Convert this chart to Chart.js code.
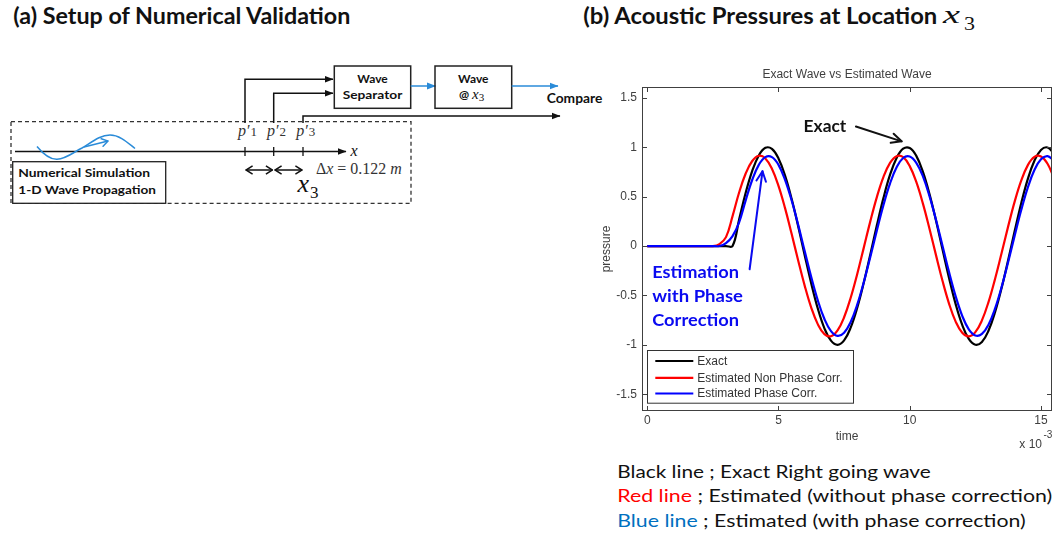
<!DOCTYPE html>
<html><head><meta charset="utf-8">
<script src="https://cdn.jsdelivr.net/npm/chart.js@4.4.1/dist/chart.umd.min.js"></script>
<style>
html,body{margin:0;padding:0;background:#fff;}
body{width:1057px;height:538px;position:relative;overflow:hidden;}
#dia{position:absolute;left:0;top:0;}
#wrap{position:absolute;left:580px;top:0;width:477px;height:538px;}
.cal{font-family:Lato,"Open Sans",sans-serif;}
.ser{font-family:"Liberation Serif","DejaVu Serif",serif;}
</style></head><body>
<svg id="dia" width="1057" height="538" xmlns="http://www.w3.org/2000/svg">
<defs>
<marker id="mk" markerUnits="userSpaceOnUse" markerWidth="9" markerHeight="8" viewBox="0 0 9 8" refX="8.5" refY="4" orient="auto"><path d="M0,0.5 L9,4 L0,7.5 z" fill="#111"/></marker>
<marker id="mkb" markerUnits="userSpaceOnUse" markerWidth="9" markerHeight="8" viewBox="0 0 9 8" refX="8.5" refY="4" orient="auto"><path d="M0,0.5 L9,4 L0,7.5 z" fill="#2a8bd8"/></marker>
<marker id="mko" markerUnits="userSpaceOnUse" markerWidth="8" markerHeight="10" viewBox="0 0 8 10" refX="7.3" refY="5" orient="auto-start-reverse"><path d="M0.7,0.8 L7.3,5 L0.7,9.2" fill="none" stroke="#111" stroke-width="1.5"/></marker>
<marker id="mkob" markerUnits="userSpaceOnUse" markerWidth="8" markerHeight="10" viewBox="0 0 8 10" refX="7.3" refY="5" orient="auto"><path d="M0.7,0.8 L7.3,5 L0.7,9.2" fill="none" stroke="#2a8bd8" stroke-width="1.4"/></marker>
</defs>
<!-- titles -->
<text class="cal" x="13.3" y="24" font-weight="700" font-size="23" fill="#111" textLength="337" lengthAdjust="spacingAndGlyphs">(a) Setup of Numerical Validation</text>
<text class="cal" x="583.3" y="23.5" font-weight="700" font-size="23" fill="#111" textLength="354" lengthAdjust="spacingAndGlyphs">(b) Acoustic Pressures at Location</text>
<text class="ser" x="943" y="23.3" font-style="italic" font-size="25" fill="#111" textLength="17" lengthAdjust="spacingAndGlyphs">x</text>
<text class="ser" x="964" y="29.5" font-size="18" fill="#111" textLength="11" lengthAdjust="spacingAndGlyphs">3</text>

<!-- dashed domain box -->
<rect x="11" y="121.7" width="400" height="81.6" fill="none" stroke="#333" stroke-width="1.3" stroke-dasharray="4,3"/>
<!-- numerical simulation box -->
<rect x="12.7" y="161.7" width="153" height="41.6" fill="#fff" stroke="#222" stroke-width="1.3"/>
<text class="cal" x="18.3" y="177.3" font-weight="700" font-size="11.5" fill="#111" textLength="131.7" lengthAdjust="spacingAndGlyphs">Numerical Simulation</text>
<text class="cal" x="18.3" y="194" font-weight="700" font-size="11.5" fill="#111" textLength="137.7" lengthAdjust="spacingAndGlyphs">1-D Wave Propagation</text>
<!-- axis -->
<line x1="15" y1="151.5" x2="346" y2="151.5" stroke="#111" stroke-width="1.5" marker-end="url(#mk)"/>
<text class="ser" x="350.5" y="155.5" font-style="italic" font-size="16" fill="#111">x</text>
<line x1="245" y1="147" x2="245" y2="156" stroke="#111" stroke-width="1.3"/>
<line x1="273.7" y1="147" x2="273.7" y2="156" stroke="#111" stroke-width="1.3"/>
<line x1="303" y1="147" x2="303" y2="156" stroke="#111" stroke-width="1.3"/>
<!-- blue wave -->
<path d="M37,146.5 C44,155 50,159.5 57,159.3 C66,159 74,152 82,148 C92,142 100,135 110,135 C120,135 128,143 135,148.5" fill="none" stroke="#2a8bd8" stroke-width="1.5"/>
<line x1="84" y1="147" x2="108" y2="141" stroke="#2a8bd8" stroke-width="1.5" marker-end="url(#mkob)"/>
<!-- probe labels -->
<text class="ser" x="238" y="136" font-style="italic" font-size="16" fill="#333">p′<tspan font-style="normal" font-size="13" dx="1">1</tspan></text>
<text class="ser" x="267" y="136" font-style="italic" font-size="16" fill="#333">p′<tspan font-style="normal" font-size="13" dx="1">2</tspan></text>
<text class="ser" x="296.3" y="136" font-style="italic" font-size="16" fill="#333">p′<tspan font-style="normal" font-size="13" dx="1">3</tspan></text>
<!-- signal paths -->
<polyline points="245,123 245,79.3 333,79.3" fill="none" stroke="#111" stroke-width="1.5" marker-end="url(#mk)"/>
<polyline points="273.7,123 273.7,93.3 333,93.3" fill="none" stroke="#111" stroke-width="1.5" marker-end="url(#mk)"/>
<polyline points="303,123 303,116 560,116" fill="none" stroke="#111" stroke-width="1.5" marker-end="url(#mk)"/>
<!-- boxes -->
<rect x="334.3" y="66" width="76.4" height="42.3" fill="none" stroke="#222" stroke-width="1.5"/>
<text class="cal" x="372.5" y="82.5" text-anchor="middle" font-weight="700" font-size="12" fill="#111">Wave</text>
<text class="cal" x="372.5" y="99" text-anchor="middle" font-weight="700" font-size="12" fill="#111" textLength="59.7" lengthAdjust="spacingAndGlyphs">Separator</text>
<line x1="410.7" y1="86" x2="435.5" y2="86" stroke="#2a8bd8" stroke-width="1.5" marker-end="url(#mkb)"/>
<rect x="435" y="66" width="76.7" height="42.3" fill="none" stroke="#222" stroke-width="1.5"/>
<text class="cal" x="473.3" y="82.5" text-anchor="middle" font-weight="700" font-size="12" fill="#111">Wave</text>
<text x="459" y="99" fill="#111"><tspan class="cal" font-weight="700" font-size="12">@ </tspan><tspan class="ser" font-style="italic" font-size="15">x</tspan><tspan class="ser" font-size="11" dy="2">3</tspan></text>
<line x1="511.7" y1="86" x2="558" y2="86" stroke="#2a8bd8" stroke-width="1.5" marker-end="url(#mkb)"/>
<text class="cal" x="546.7" y="103.3" font-weight="700" font-size="12.5" fill="#111" textLength="55.6" lengthAdjust="spacingAndGlyphs">Compare</text>
<!-- spacing arrows -->
<line x1="246" y1="170" x2="272.5" y2="170" stroke="#111" stroke-width="1.5" marker-start="url(#mko)" marker-end="url(#mko)"/>
<line x1="275" y1="170" x2="302" y2="170" stroke="#111" stroke-width="1.5" marker-start="url(#mko)" marker-end="url(#mko)"/>
<text class="ser" x="316" y="174" font-size="16" fill="#333" textLength="85.7" lengthAdjust="spacingAndGlyphs">Δ<tspan font-style="italic">x</tspan> = 0.122 <tspan font-style="italic">m</tspan></text>
<text class="ser" x="297.5" y="192" font-style="italic" font-size="26" fill="#111">x</text>
<text class="ser" x="310" y="197.5" font-size="17" fill="#111">3</text>

<!-- caption under chart -->
<text class="cal" x="617.3" y="477.8" font-size="17" fill="#111" textLength="313.4" lengthAdjust="spacingAndGlyphs">Black line ; Exact Right going wave</text>
<text class="cal" x="617.3" y="502.3" font-size="17" fill="#111" textLength="435" lengthAdjust="spacingAndGlyphs"><tspan fill="#ff0000">Red line</tspan> ; Estimated (without phase correction)</text>
<text class="cal" x="617.3" y="527" font-size="17" fill="#111" textLength="408.4" lengthAdjust="spacingAndGlyphs"><tspan fill="#0070c0">Blue line</tspan> ; Estimated (with phase correction)</text>
</svg>
<div id="wrap"><canvas id="c"></canvas></div>
<script>
// time in units of 1e-3 s
const times = [0, 1, 2, 2.5, 2.75, 3, 3.25, 3.5, 3.75, 4, 4.25, 4.5, 4.75, 5, 5.25, 5.5, 5.75, 6, 6.25, 6.5, 6.75, 7, 7.25, 7.5, 7.75, 8, 8.25, 8.5, 8.75, 9, 9.25, 9.5, 9.75, 10, 10.25, 10.5, 10.75, 11, 11.25, 11.5, 11.75, 12, 12.25, 12.5, 12.75, 13, 13.25, 13.5, 13.75, 14, 14.25, 14.5, 14.75, 15, 15.25, 15.5];
const exact = [0, 0, 0, 0, 0, 0, 0, 0.269, 0.539, 0.761, 0.917, 0.994, 0.983, 0.887, 0.713, 0.478, 0.200, -0.095, -0.381, -0.635, -0.833, -0.958, -1.000, -0.955, -0.826, -0.625, -0.370, -0.083, 0.212, 0.488, 0.722, 0.892, 0.985, 0.992, 0.913, 0.753, 0.529, 0.258, -0.036, -0.326, -0.588, -0.798, -0.940, -0.999, -0.971, -0.858, -0.670, -0.425, -0.142, 0.154, 0.436, 0.680, 0.864, 0.973, 0.998, 0.935];
const estNonPhase = [0, 0, 0, 0, 0.02, 0.09, 0.303, 0.542, 0.734, 0.861, 0.914, 0.887, 0.782, 0.610, 0.384, 0.124, -0.146, -0.403, -0.626, -0.793, -0.892, -0.913, -0.854, -0.721, -0.524, -0.283, -0.016, 0.252, 0.498, 0.700, 0.842, 0.910, 0.899, 0.809, 0.649, 0.432, 0.178, -0.092, -0.354, -0.585, -0.765, -0.878, -0.915, -0.872, -0.753, -0.568, -0.333, -0.070, 0.199, 0.452, 0.664, 0.819, 0.902, 0.907, 0.833, 0.686];
const estPhase = [0, 0, 0, 0, 0, 0.03, 0.10, 0.24, 0.463, 0.671, 0.822, 0.900, 0.900, 0.822, 0.671, 0.463, 0.214, -0.054, -0.317, -0.552, -0.739, -0.862, -0.910, -0.878, -0.769, -0.594, -0.367, -0.108, 0.161, 0.416, 0.634, 0.797, 0.891, 0.906, 0.843, 0.707, 0.508, 0.266, 0.000, -0.266, -0.509, -0.707, -0.843, -0.906, -0.890, -0.797, -0.634, -0.415, -0.161, 0.108, 0.367, 0.594, 0.770, 0.878, 0.910, 0.862];
const seriesNames = ['Exact', 'Estimated Non Phase Corr.', 'Estimated Phase Corr.'];
const seriesColors = ['#000000', '#ff0000', '#0000ff'];
const xTicksStep = 5;
const yTicksStep = 0.5;
const chartTitle = 'Exact Wave vs Estimated Wave';
const xLabel = 'time';
const yLabel = 'pressure';
const xExponent = '-3';
// annotations (data coordinates)
const exactNote = {text: 'Exact', t: 6.77, p: 1.21, from: [7.95, 1.21], to: [9.69, 1.06]};
const phaseNote = {lines: ['Estimation', 'with Phase', 'Correction'], t: 0.19, p: [-0.27, -0.515, -0.758], from: [3.9, -0.235], to: [4.39, 0.757]};

const pts = arr => times.map((t, i) => ({x: t, y: arr[i]}));
const AX = '#404040';
const FONT = '"Liberation Sans", Arial, sans-serif';
const fmt = v => String(Math.round(v * 10) / 10);

function arrow(ctx, x1, y1, x2, y2, color, w, head) {
  ctx.save();
  ctx.strokeStyle = color; ctx.lineWidth = w; ctx.lineCap = 'round'; ctx.lineJoin = 'round';
  ctx.beginPath(); ctx.moveTo(x1, y1); ctx.lineTo(x2, y2); ctx.stroke();
  const a = Math.atan2(y2 - y1, x2 - x1), s = 0.45;
  ctx.beginPath();
  ctx.moveTo(x2 - head * Math.cos(a - s), y2 - head * Math.sin(a - s));
  ctx.lineTo(x2, y2);
  ctx.lineTo(x2 - head * Math.cos(a + s), y2 - head * Math.sin(a + s));
  ctx.stroke();
  ctx.restore();
}
function fitText(ctx, text, x, y, width, align) {
  const m = ctx.measureText(text).width;
  ctx.save();
  ctx.translate(x, y);
  ctx.scale(width / m, 1);
  ctx.textAlign = 'left';
  ctx.fillText(text, align === 'center' ? -m / 2 : 0, 0);
  ctx.restore();
}

const decor = {
  id: 'decor',
  afterDraw(chart) {
    const {ctx, chartArea: a, scales: {x, y}} = chart;
    ctx.save();
    // box + inward ticks
    ctx.strokeStyle = AX; ctx.lineWidth = 1;
    ctx.strokeRect(Math.round(a.left) + 0.5, Math.round(a.top) + 0.5, Math.round(a.right - a.left) - 1, Math.round(a.bottom - a.top) - 1);
    ctx.beginPath();
    x.ticks.forEach(tk => {
      const px = Math.round(x.getPixelForValue(tk.value)) + 0.5;
      ctx.moveTo(px, a.bottom); ctx.lineTo(px, a.bottom - 5);
      ctx.moveTo(px, a.top); ctx.lineTo(px, a.top + 5);
    });
    y.ticks.forEach(tk => {
      const py = Math.round(y.getPixelForValue(tk.value)) + 0.5;
      ctx.moveTo(a.left, py); ctx.lineTo(a.left + 5, py);
      ctx.moveTo(a.right, py); ctx.lineTo(a.right - 5, py);
    });
    ctx.stroke();
    // title
    ctx.fillStyle = AX; ctx.font = '12px ' + FONT; ctx.textBaseline = 'middle'; ctx.textAlign = 'center';
    ctx.fillText(chartTitle, (a.left + a.right) / 2, a.top - 12);
    // exponent
    ctx.textAlign = 'left'; ctx.textBaseline = 'alphabetic';
    ctx.fillText('x 10', a.right - 32.7, a.bottom + 37.3);
    ctx.font = '10px ' + FONT;
    ctx.fillText(xExponent, a.right - 8.5, a.bottom + 27);
    // legend
    const lx = a.left + 5.3, ly = a.bottom - 61, lw = 206, lh = 52.7;
    ctx.fillStyle = '#fff'; ctx.fillRect(lx, ly, lw, lh);
    ctx.strokeStyle = '#333'; ctx.lineWidth = 1;
    ctx.strokeRect(Math.round(lx) + 0.5, Math.round(ly) + 0.5, lw, lh);
    const rows = [11, 27.8, 43.5];
    ctx.font = '12px ' + FONT; ctx.textBaseline = 'middle';
    chart.data.datasets.forEach((ds, i) => {
      const ry = ly + rows[i];
      ctx.strokeStyle = ds.borderColor; ctx.lineWidth = 2.2;
      ctx.beginPath(); ctx.moveTo(lx + 8, ry); ctx.lineTo(lx + 46, ry); ctx.stroke();
      ctx.fillStyle = '#333';
      ctx.fillText(ds.label, lx + 50, ry + 0.5);
    });
    // annotations
    ctx.font = 'bold 17px Lato, "Open Sans", sans-serif';
    ctx.fillStyle = '#111'; ctx.textBaseline = 'middle';
    fitText(ctx, exactNote.text, x.getPixelForValue(exactNote.t), y.getPixelForValue(exactNote.p), 42.7, 'center');
    arrow(ctx, x.getPixelForValue(exactNote.from[0]), y.getPixelForValue(exactNote.from[1]),
      x.getPixelForValue(exactNote.to[0]), y.getPixelForValue(exactNote.to[1]), '#111', 2, 11);
    ctx.fillStyle = '#0a0af0';
    const widths = [86.7, 90.7, 86.7];
    phaseNote.lines.forEach((ln, i) => {
      fitText(ctx, ln, x.getPixelForValue(phaseNote.t), y.getPixelForValue(phaseNote.p[i]), widths[i], 'left');
    });
    arrow(ctx, x.getPixelForValue(phaseNote.from[0]), y.getPixelForValue(phaseNote.from[1]),
      x.getPixelForValue(phaseNote.to[0]), y.getPixelForValue(phaseNote.to[1]), '#0a0af0', 2, 11);
    ctx.restore();
  }
};

new Chart(document.getElementById('c'), {
  type: 'line',
  data: {
    datasets: [
      {label: seriesNames[0], data: pts(exact), borderColor: seriesColors[0], order: 3},
      {label: seriesNames[1], data: pts(estNonPhase), borderColor: seriesColors[1], order: 2},
      {label: seriesNames[2], data: pts(estPhase), borderColor: seriesColors[2], order: 1}
    ]
  },
  options: {
    animation: false, responsive: true, maintainAspectRatio: false, devicePixelRatio: 1,
    layout: {padding: {left: 17, top: 87, right: 5, bottom: 90}},
    elements: {point: {radius: 0}, line: {borderWidth: 2.2, tension: 0.4, fill: false}},
    plugins: {legend: {display: false}, tooltip: {enabled: false}, title: {display: false}},
    scales: {
      x: {
        type: 'linear', min: -0.2, max: 15.42,
        afterFit(s) { s.height = 37; },
        grid: {display: false, drawTicks: false}, border: {display: false},
        ticks: {stepSize: xTicksStep, includeBounds: false, padding: 2, color: AX, maxRotation: 0, font: {family: FONT, size: 12}, callback: fmt},
        title: {display: true, text: xLabel, color: AX, font: {family: FONT, size: 12}, padding: {top: 4, bottom: 4}}
      },
      y: {
        type: 'linear', min: -1.67, max: 1.61,
        afterFit(s) { s.width = 45; },
        grid: {display: false, drawTicks: false}, border: {display: false},
        ticks: {stepSize: yTicksStep, includeBounds: false, padding: 5, color: AX, font: {family: FONT, size: 12}, callback: fmt},
        title: {display: true, text: yLabel, color: AX, font: {family: FONT, size: 12}, padding: {top: 2, bottom: 2}}
      }
    }
  },
  plugins: [decor]
});
</script>
</body></html>
